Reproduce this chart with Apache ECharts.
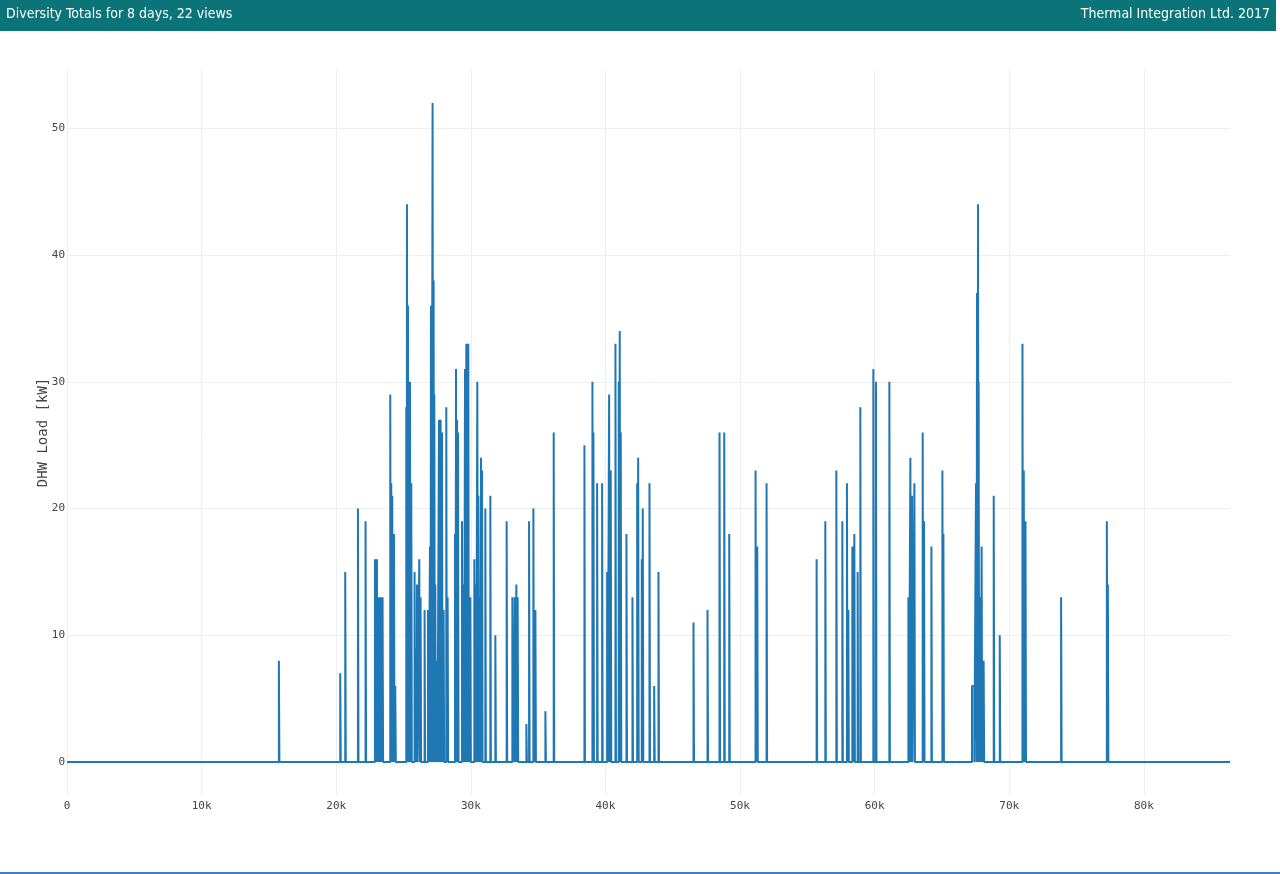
<!DOCTYPE html>
<html>
<head>
<meta charset="utf-8">
<script src="https://cdn.jsdelivr.net/npm/echarts@6/dist/echarts.min.js"></script>
<style>
html,body{margin:0;padding:0;background:#fff;}
#chart{width:1280px;height:874px;}
</style>
</head>
<body>
<div id="chart"></div>
<script>
// Time of each load event (seconds of the day) and its load (kW)
var peakTimes = [
15740,20298,20670,21614,22179,22878,23026,23175,23309,23443,
24015,24089,24164,24290,24387,25205,25256,25330,25479,25576,
25822,25948,26000,26171,26268,26565,26818,26967,27041,27160,
27234,27287,27361,27487,27636,27755,27859,27978,28178,28275,
28826,28900,28974,29049,29346,29465,29569,29666,29740,29814,
29866,29963,30260,30357,30483,30557,30654,30758,30832,31078,
31450,31822,32662,33086,33160,33257,33383,33480,34127,34327,
34648,34796,35539,36157,38439,39034,39108,39383,39755,40127,
40275,40394,40744,40989,41063,41138,41562,42008,42358,42432,
42700,42774,43272,43621,43941,46543,47584,48476,48826,49198,
51153,51279,51971,55689,56336,57154,57600,57942,58046,58343,
58492,58737,58938,59904,60098,61094,62507,62656,62774,62953,
63569,63666,64216,65034,65108,67531,67606,67680,67725,67852,
67948,68097,68846,69294,70982,71079,71205,73852,77251,77326
];
var peakLoads = [
8,7,15,20,19,16,16,13,13,13,
29,22,21,18,6,28,44,36,30,22,
15,9,14,16,13,12,12,17,36,52,
38,29,14,8,27,27,26,12,28,13,
18,31,27,26,19,14,31,33,33,33,
12,13,16,14,30,21,13,24,23,20,
21,10,19,13,9,13,14,13,3,19,
20,12,4,26,25,30,26,22,22,15,
29,23,33,30,34,26,18,13,22,24,
16,20,22,6,15,11,12,26,26,18,
23,17,22,16,19,23,19,22,12,17,
18,15,28,31,30,30,13,24,21,22,
26,19,17,23,18,22,37,44,30,13,
17,8,21,10,33,23,19,13,19,14
];
// Longer steady draw (start, end, kW)
var plateauStart = [67234];
var plateauEnd = [67406];
var plateauLoad = [6];
var eventDuration = 40; // seconds each short draw lasts
var dayLength = 86400;
var xTickInterval = 10000;

var events = [];
for (var i = 0; i < peakTimes.length; i++) {
  events.push([peakTimes[i], peakTimes[i] + eventDuration, peakLoads[i]]);
}
for (var j = 0; j < plateauStart.length; j++) {
  events.push([plateauStart[j], plateauEnd[j], plateauLoad[j]]);
}
events.sort(function(a, b){ return a[0] - b[0]; });
var seriesData = [[0, 0]];
events.forEach(function(e){
  seriesData.push([e[0], 0], [e[0], e[2]], [e[1], e[2]], [e[1], 0]);
});
seriesData.push([dayLength, 0]);

var chart = echarts.init(document.getElementById('chart'), null, {renderer: 'canvas'});
var tickFont = "'DejaVu Sans Mono', monospace";
var headFont = "14px 'Liberation Sans Narrow', 'DejaVu Sans Condensed', 'Liberation Sans', sans-serif";
chart.setOption({
  animation: false,
  backgroundColor: '#ffffff',
  graphic: [
    {type: 'rect', left: 0, top: 0, shape: {width: 1276, height: 31}, style: {fill: '#0b7479'}, z: 10},
    {type: 'text', left: 6, top: 7, style: {text: 'Diversity Totals for 8 days, 22 views', fill: '#ffffff', font: headFont}, z: 11},
    {type: 'text', right: 10, top: 7, style: {text: 'Thermal Integration Ltd. 2017', fill: '#ffffff', font: headFont}, z: 11},
    {type: 'rect', left: 0, top: 872, shape: {width: 1280, height: 2}, style: {fill: '#3b7dd8'}, z: 10}
  ],
  grid: {left: 67, right: 50, top: 70, bottom: 79, containLabel: false},
  xAxis: {
    type: 'value', min: 0, max: dayLength, interval: xTickInterval,
    axisLine: {show: false}, axisTick: {show: false},
    axisLabel: {color: '#444', fontSize: 11, fontFamily: tickFont, margin: 6, showMaxLabel: false,
      formatter: function(v){ return v === 0 ? '0' : (v / 1000) + 'k'; }},
    splitLine: {show: true, showMaxLine: false, lineStyle: {color: '#eeeeee', width: 1}}
  },
  yAxis: {
    type: 'value', min: -2.6, max: 54.6,
    name: 'DHW Load [kW]', nameLocation: 'middle', nameGap: 17, nameMoveOverlap: false,
    nameTextStyle: {color: '#444', fontSize: 14, fontFamily: tickFont},
    axisLine: {show: false}, axisTick: {show: false},
    axisLabel: {color: '#444', fontSize: 11, fontFamily: tickFont, margin: 2, showMinLabel: false, showMaxLabel: false},
    splitLine: {show: true, showMinLine: false, showMaxLine: false, lineStyle: {color: '#eeeeee', width: 1}}
  },
  series: [{
    type: 'line', data: seriesData, showSymbol: false, symbol: 'none',
    lineStyle: {color: '#1f77b4', width: 2}, sampling: null, z: 3
  }]
});
</script>
</body>
</html>
